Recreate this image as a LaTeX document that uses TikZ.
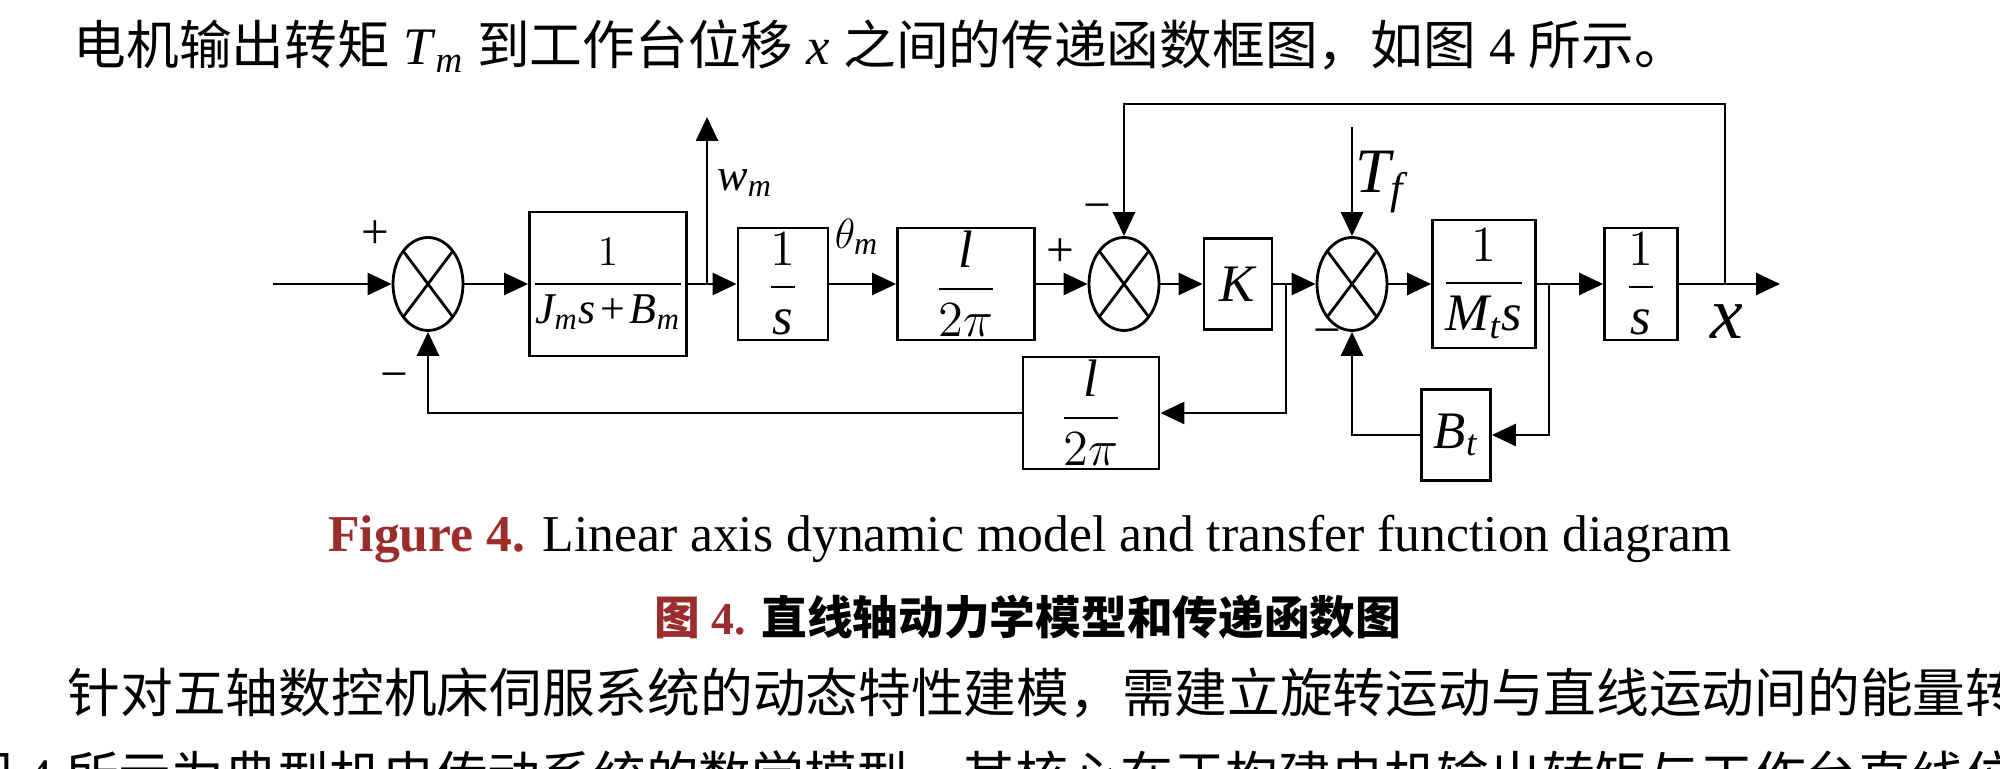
\documentclass[tikz,border=0pt]{standalone}
\usepackage{amsmath}
\usepackage{fontspec}
\setmainfont{Liberation Serif}
\newfontfamily\cjk{Noto Sans CJK SC}
\usetikzlibrary{arrows.meta, positioning, shapes.geometric}
\definecolor{capred}{RGB}{155,45,45}
\newcommand{\mv}[1]{\textit{#1}}

\begin{document}
\begin{tikzpicture}[
  blk/.style={draw, line width=0.8pt, inner sep=0pt, font=\fontsize{15}{17}\selectfont},
  sumnode/.style={draw, ellipse, line width=0.8pt, inner sep=0pt,
                  minimum width=0.70cm, minimum height=0.93cm,
                  path picture={\draw[line width=0.8pt]
                    (path picture bounding box.north west) -- (path picture bounding box.south east)
                    (path picture bounding box.north east) -- (path picture bounding box.south west);}},
  sig/.style={font=\fontsize{14}{16}\selectfont, inner sep=0pt},
  lbl/.style={font=\fontsize{13}{15}\selectfont, inner sep=0pt},
  wire/.style={line width=0.75pt},
  flow/.style={line width=0.75pt, -{Triangle[length=0.24cm, width=0.22cm]}},
  body/.style={anchor=base west, inner sep=0pt, font=\fontsize{15}{18}\selectfont}
]
\useasboundingbox (0,0) rectangle (20,-7.69);
\fill[white] (0,0) rectangle (20,-7.69);
\clip (0,0) rectangle (20,-7.69);

% Text around the figure
\node[body] (line1) at (0.73,-0.65) {{\cjk 电机输出转矩} \mv{T}\textsubscript{\mv{m}} {\cjk 到工作台位移} \mv{x} {\cjk 之间的传递函数框图，如图} 4 {\cjk 所示。}};
\node[body] (line3) at (0.67,-7.13) {\cjk 针对五轴数控机床伺服系统的动态特性建模，需建立旋转运动与直线运动间的能量转};
\node[body] (line4) at (-0.40,-7.96) {{\cjk 图} 4 {\cjk 所示为典型机电传动系统的数学模型，其核心在于构建电机输出转矩与工作台直线位}};

% Captions
\node[anchor=base, inner sep=0pt, font=\fontsize{14.7}{17}\selectfont] (capen) at (10.30,-5.52)
  {\textcolor{capred}{\bfseries Figure 4.} Linear axis dynamic model and transfer function diagram};
\node[anchor=base, inner sep=0pt, font=\fontsize{13}{15}\selectfont] (capzh) at (10.28,-6.35)
  {\textcolor{capred}{{\cjk\bfseries 图} \bfseries 4.} {\cjk\bfseries 直线轴动力学模型和传递函数图}};

% Forward path
\coordinate (in) at (2.73,-2.84);
\node[sumnode] (s1) at (4.28,-2.84) {};
\node[blk, minimum width=1.57cm, minimum height=1.44cm, font=\fontsize{12.5}{15}\selectfont] (g1) at (6.08,-2.84)
  {$\dfrac{1}{\mv{J}_{\mv{m}}\mv{s}\mkern2mu\text{+}\mkern2mu\mv{B}_{\mv{m}}}$};
\coordinate (br1) at (7.07,-2.84);
\coordinate (wtip) at (7.07,-1.17);
\node[blk, minimum width=0.90cm, minimum height=1.12cm] (g2) at (7.83,-2.84) {$\dfrac{1}{\mv{s}}$};
\node[blk, minimum width=1.37cm, minimum height=1.12cm] (g3) at (9.66,-2.84) {$\dfrac{\mv{l}}{2\pi}$};
\node[sumnode] (s2) at (11.24,-2.84) {};
\node[blk, minimum width=0.68cm, minimum height=0.91cm] (k) at (12.38,-2.84) {\mv{K}};
\coordinate (br2) at (12.86,-2.84);
\node[sumnode] (s3) at (13.52,-2.84) {};
\coordinate (tf) at (13.52,-1.27);
\node[blk, minimum width=1.03cm, minimum height=1.28cm] (g4) at (14.84,-2.84)
  {$\dfrac{1}{\mv{M}_{\mv{t}}\mv{s}}$};
\coordinate (br3) at (15.49,-2.84);
\node[blk, minimum width=0.73cm, minimum height=1.12cm] (g5) at (16.41,-2.84) {$\dfrac{1}{\mv{s}}$};
\coordinate (br4) at (17.25,-2.84);
\coordinate (top) at (17.25,-1.04);
\coordinate (out) at (17.80,-2.84);

% Feedback blocks
\node[blk, minimum width=1.36cm, minimum height=1.12cm] (h1) at (10.91,-4.13) {$\dfrac{\mv{l}}{2\pi}$};
\node[blk, minimum width=0.69cm, minimum height=0.91cm] (bt) at (14.56,-4.35) {$\mv{B}_{\mv{t}}$};

% Connectors
\draw[flow] (in) -- (s1);
\draw[flow] (s1) -- (g1);
\draw[wire] (g1) -- (br1);
\draw[flow] (br1) -- (g2);
\draw[flow] (br1) -- (wtip);
\draw[flow] (g2) -- (g3);
\draw[flow] (g3) -- (s2);
\draw[flow] (s2) -- (k);
\draw[flow] (k) -- (s3);
\draw[flow] (br2) |- (h1);
\draw[flow] (h1) -| (s1);
\draw[flow] (tf) -- (s3);
\draw[flow] (s3) -- (g4);
\draw[wire] (g4) -- (br3);
\draw[flow] (br3) -- (g5);
\draw[flow] (br3) |- (bt);
\draw[flow] (bt) -| (s3);
\draw[flow] (g5) -- (out);
\draw[flow] (br4) -- (top) -| (s2);

% Signs and signal names
\node[sig] (p1) at (3.75,-2.35) {+};
\node[sig] (m1) at (3.94,-3.82) {−};
\node[sig] (p2) at (10.60,-2.53) {+};
\node[sig] (m2) at (10.97,-2.13) {−};
\node[sig] (m3) at (13.27,-3.38) {−};
\node[lbl] (wm) at (7.45,-1.83) {$\mv{w}_{\mv{m}}$};
\node[lbl] (thm) at (8.57,-2.37) {$\theta_{\mv{m}}$};
\node[inner sep=0pt, font=\fontsize{18}{20}\selectfont] (tfl) at (13.80,-1.82) {$\mv{T}_{\mv{f}}$};
\node[inner sep=0pt, font=\fontsize{21}{23}\selectfont] (xl) at (17.27,-3.22) {\mv{x}};
\end{tikzpicture}
\end{document}
